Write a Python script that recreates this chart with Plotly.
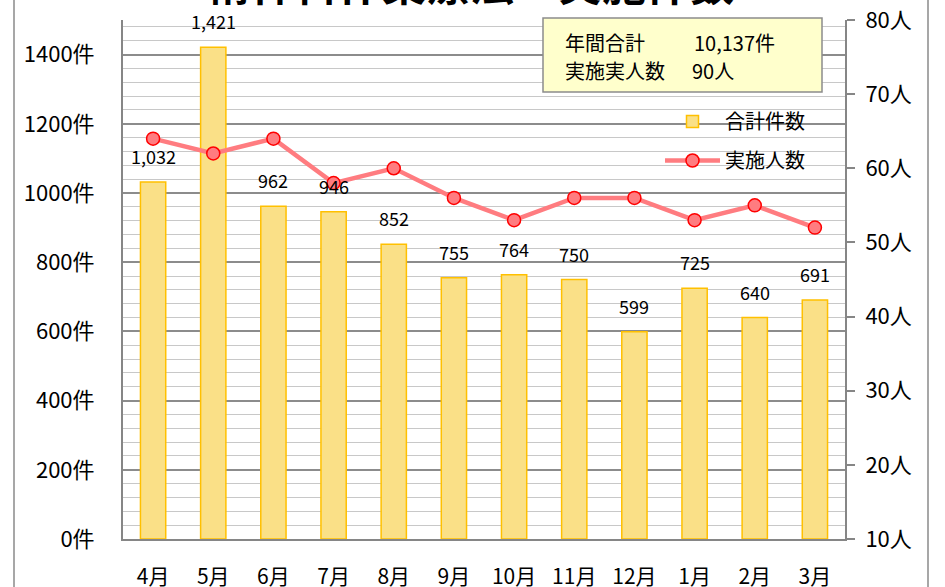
import plotly.graph_objects as go

months = ["4月", "5月", "6月", "7月", "8月", "9月", "10月", "11月", "12月", "1月", "2月", "3月"]
cases = [1032, 1421, 962, 946, 852, 755, 764, 750, 599, 725, 640, 691]
people = [64, 62, 64, 58, 60, 56, 53, 56, 56, 53, 55, 52]
left_ticks = [0, 200, 400, 600, 800, 1000, 1200, 1400]
right_ticks = [10, 20, 30, 40, 50, 60, 70, 80]

FONT = "Noto Sans CJK JP"
W, H = 945, 587
L, R, T, B = 123, 100, 20, 48
pw, ph = W - L - R, H - T - B

def px(x):
    return (x - L) / pw

def py(y):
    return (H - B - y) / ph

fig = go.Figure()
fig.add_trace(go.Bar(
    x=months, y=cases, name="合計件数", width=0.42,
    marker=dict(color="#FAE087", line=dict(color="#FFC000", width=1.5)),
    legendgroup="a", yaxis="y",
))
fig.add_trace(go.Scatter(
    x=months, y=people, name="実施人数", mode="lines+markers", yaxis="y2",
    line=dict(color="#FF7C80", width=4.5),
    marker=dict(size=13, color="#FF7C80", line=dict(color="#FF0000", width=1.5)),
    legendgroup="b",
))

annotations = []
for m, v in zip(months, cases):
    annotations.append(dict(x=m, y=v, xref="x", yref="y", text=f"{v:,}", showarrow=False,
                            yanchor="bottom", yshift=11, font=dict(family=FONT, size=18, color="#000")))

# title (cut off at the top edge)
annotations.append(dict(x=px(470), y=1, xref="paper", yref="paper", text="<b>精神科作業療法　実施件数</b>",
                        showarrow=False, yanchor="bottom", xanchor="center", yshift=4,
                        font=dict(family=FONT, size=44, color="#000")))

# summary box texts
for txt, x, y in [("年間合計", 563, 43), ("10,137件", 692, 43), ("実施実人数", 563, 70), ("90人", 690, 70)]:
    annotations.append(dict(x=px(x), y=py(y), xref="paper", yref="paper", text=txt, showarrow=False,
                            xanchor="left", yanchor="middle", font=dict(family=FONT, size=20, color="#000")))

shapes = [
    dict(type="rect", xref="paper", yref="paper", x0=px(14), x1=px(928), y0=-0.3, y1=1.3,
         line=dict(color="#8a8a8a", width=1.5), fillcolor="rgba(0,0,0,0)", layer="above"),
    dict(type="rect", xref="paper", yref="paper", x0=px(543), x1=px(822), y0=py(92), y1=py(18),
         line=dict(color="#8c8c8c", width=1.5), fillcolor="#FFFFCC", layer="above"),
]

fig.update_layout(
    width=W, height=H,
    margin=dict(l=L, r=R, t=T, b=B, pad=0, autoexpand=False),
    paper_bgcolor="white", plot_bgcolor="white",
    font=dict(family=FONT, color="#000"),
    showlegend=True,
    legend=dict(x=px(660), y=py(102), xanchor="left", yanchor="top", bgcolor="rgba(0,0,0,0)",
                font=dict(family=FONT, size=20), itemwidth=55, traceorder="grouped", tracegroupgap=10),
    xaxis=dict(type="category", showline=True, linecolor="#868686", linewidth=2, showgrid=False,
               ticks="", tickfont=dict(family=FONT, size=21), ticklabelstandoff=18, range=[-0.5, 11.5],
               automargin=False),
    yaxis=dict(range=[0, 1500], tickvals=left_ticks, ticktext=[f"{v}件" for v in left_ticks],
               showline=True, linecolor="#868686", linewidth=2, zeroline=False,
               showgrid=True, gridcolor="#8c8c8c", gridwidth=1.5,
               minor=dict(dtick=40, tick0=0, showgrid=True, gridcolor="#c8c8c8", gridwidth=1.25),
               tickfont=dict(family=FONT, size=22), ticklabelstandoff=22, automargin=False),
    yaxis2=dict(range=[10, 80], tickvals=right_ticks, ticktext=[f"{v}人" for v in right_ticks],
                overlaying="y", side="right", showline=True, linecolor="#868686", linewidth=2,
                showgrid=False, zeroline=False, ticks="outside", ticklen=8, tickcolor="#868686", tickwidth=2,
                tickfont=dict(family=FONT, size=22), ticklabelstandoff=6, automargin=False),
    annotations=annotations, shapes=shapes, bargap=0.58,
)

fig.write_html("out.html", config={"displayModeBar": False},
               post_script="document.body.style.margin='0';")
